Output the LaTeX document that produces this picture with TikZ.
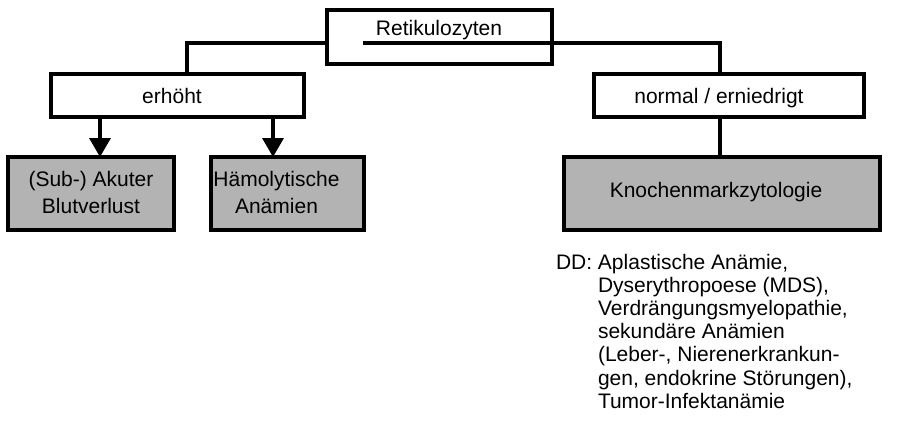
\documentclass[tikz,border=0pt]{standalone}
\usepackage{fontspec}
\setmainfont{Liberation Sans}
\usetikzlibrary{arrows.meta}
\definecolor{boxgray}{RGB}{179,179,179}
\tikzset{
  box/.style={draw=black, line width=3.5pt, rectangle, inner sep=0pt, outer sep=0pt},
  graybox/.style={box, fill=boxgray},
  conn/.style={draw=black, line width=3.5pt},
  arr/.style={conn, -{Triangle[width=21pt,length=19pt]}},
  lbl/.style={inner sep=0pt, outer sep=0pt, anchor=base, font=\fontsize{21}{27}\selectfont},
}
\begin{document}
\begin{tikzpicture}[x=1pt,y=-1pt]
\useasboundingbox (0,0) rectangle (899,431);
% boxes
\node[box, minimum width=225pt, minimum height=54pt] (reti) at (439.5,37) {};
\node[box, fill=white, minimum width=253pt, minimum height=43pt] (erh) at (177.5,95.5) {};
\node[box, fill=white, minimum width=270pt, minimum height=43pt] (norm) at (729,95.5) {};
\node[graybox, minimum width=166pt, minimum height=73pt] (sub) at (91,193.5) {};
\node[graybox, minimum width=153pt, minimum height=73pt] (haem) at (287.5,193.5) {};
\node[graybox, minimum width=316pt, minimum height=73pt] (kno) at (722,193.5) {};
% texts
\node[lbl] (retit) at (439,35) {Retikulozyten};
\node[lbl] (erht) at (172,103) {erhöht};
\node[lbl] (normt) at (719,103) {normal / erniedrigt};
\node[lbl] (subt) at (91,186) {\begin{tabular}[t]{@{}c@{}}(Sub-) Akuter\\Blutverlust\end{tabular}};
\node[lbl] (haemt) at (276.5,186) {\begin{tabular}[t]{@{}c@{}}Hämolytische\\Anämien\end{tabular}};
\node[lbl] (knot) at (716,197) {Knochenmarkzytologie};
\node[inner sep=0pt, outer sep=0pt, anchor=base west, font=\fontsize{21}{23.2}\selectfont] (dd) at (556,269)
 {\begin{tabular}[t]{@{}l@{}l@{}}DD:\ \null & Aplastische Anämie,\\
 & Dyserythropoese (MDS),\\
 & Verdrängungsmyelopathie,\\
 & sekundäre Anämien\\
 & (Leber-, Nierenerkrankun-\\
 & gen, endokrine Störungen),\\
 & Tumor-Infektanämie\end{tabular}};
% connectors
\coordinate (ul) at (363,43);
\coordinate (jl) at (187,43);
\coordinate (jr) at (720,43);
\coordinate (a1) at (100,0);
\coordinate (a2) at (273,0);
\draw[conn] (reti.west |- jl) -| (erh.north -| jl);
\draw[conn] (ul) -| (norm.north -| jr);
\draw[arr] (erh.south -| a1) -- (sub.north -| a1);
\draw[arr] (erh.south -| a2) -- (haem.north -| a2);
\draw[conn] (norm.south -| jr) -- (kno.north -| jr);
\end{tikzpicture}
\end{document}
